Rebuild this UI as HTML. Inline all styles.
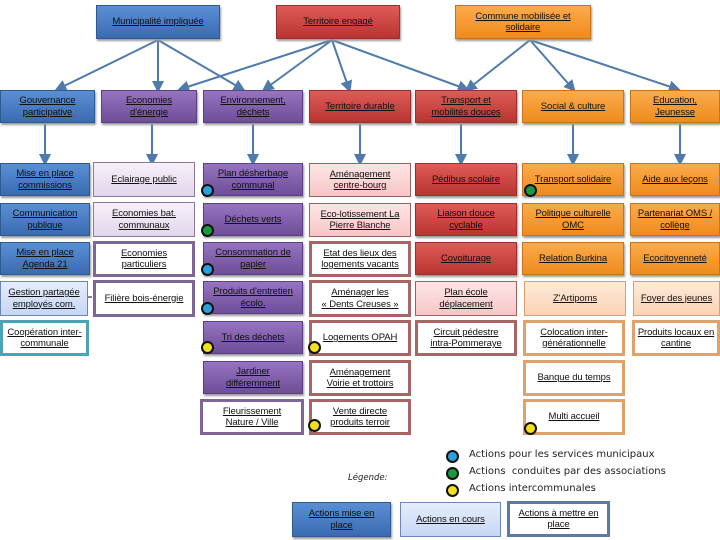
<!DOCTYPE html>
<html><head><meta charset="utf-8"><style>
body{margin:0;width:720px;height:540px;position:relative;background:#fff;overflow:hidden;font-family:"Liberation Sans",sans-serif;}
.b{position:absolute;box-sizing:border-box;display:flex;align-items:center;justify-content:center;text-align:center;font-size:9.5px;line-height:11.5px;color:#111;text-decoration:underline;white-space:nowrap;letter-spacing:-0.1px}
.blue{background:linear-gradient(#5b8fd3,#3a6bb0);border:1px solid #2e5a94;box-shadow:1px 2px 2px #999}
.pur{background:linear-gradient(#9674bf,#6e4d99);border:1px solid #5c3f84;box-shadow:1px 2px 2px #999}
.red{background:linear-gradient(#de5b58,#b83532);border:1px solid #983030;box-shadow:1px 2px 2px #999}
.org{background:linear-gradient(#fbab4c,#ef8b1e);border:1px solid #c8741c;box-shadow:1px 2px 2px #999}
.lpur{background:linear-gradient(#f6f0fa,#e2d6ec);border:1px solid #8c7aa0}
.lred{background:linear-gradient(#fde6e6,#f7c6c6);border:1px solid #a06060}
.lorg{background:linear-gradient(#feeadb,#fbd3b4);border:1px solid #d8a070}
.lblue{background:linear-gradient(#e6eefc,#c6d6f4);border:1px solid #6b87b8}
.wpur{background:#fff;border:3px solid #7e6796}
.wred{background:#fff;border:3px solid #a96565}
.worg{background:#fff;border:3px solid #e2a06a}
.wteal{background:#fff;border:3px solid #4ba3b4}
.wblue{background:#fff;border:3px solid #5c7aa8}
.d{position:absolute;width:9px;height:9px;border-radius:50%;border:2.5px solid #111}
.t{position:absolute;font-size:10px;color:#222;font-family:"DejaVu Sans",sans-serif}
</style></head><body>
<svg width="720" height="540" style="position:absolute;left:0;top:0">
<defs><marker id="a" markerWidth="6" markerHeight="6" refX="4" refY="3" orient="auto"><path d="M0,0L6,3L0,6z" fill="#4f7bac"/></marker></defs>
<g stroke="#4f7bac" stroke-width="2" marker-end="url(#a)">
<line x1="158" y1="40" x2="58" y2="89"/><line x1="158" y1="40" x2="158" y2="89"/><line x1="158" y1="40" x2="242" y2="89"/>
<line x1="332" y1="40" x2="181" y2="89"/><line x1="332" y1="40" x2="265" y2="89"/><line x1="332" y1="40" x2="349" y2="89"/><line x1="332" y1="40" x2="466" y2="89"/>
<line x1="530" y1="40" x2="468" y2="89"/><line x1="530" y1="40" x2="573" y2="89"/><line x1="530" y1="40" x2="677" y2="89"/>
<line x1="45" y1="124" x2="45" y2="162"/><line x1="152" y1="124" x2="152" y2="162"/><line x1="253" y1="124" x2="253" y2="162"/><line x1="360" y1="124" x2="360" y2="162"/><line x1="461" y1="124" x2="461" y2="162"/><line x1="573" y1="124" x2="573" y2="162"/><line x1="680" y1="124" x2="680" y2="162"/>
</g>
<line x1="0" y1="297" x2="92" y2="297" stroke="#111" stroke-width="1"/>
</svg>
<div class="b blue" style="left:96px;top:5px;width:124px;height:34px">Municipalité impliquée</div>
<div class="b red" style="left:276px;top:5px;width:124px;height:34px">Territoire engagé</div>
<div class="b org" style="left:455px;top:5px;width:136px;height:34px">Commune mobilisée et<br>solidaire</div>

<div class="b blue" style="left:0;top:90px;width:95px;height:33px">Gouvernance<br>participative</div>
<div class="b pur" style="left:101px;top:90px;width:96px;height:33px">Economies<br>d'énergie</div>
<div class="b pur" style="left:203px;top:90px;width:100px;height:33px">Environnement,<br>déchets</div>
<div class="b red" style="left:309px;top:90px;width:102px;height:33px">Territoire durable</div>
<div class="b red" style="left:415px;top:90px;width:102px;height:33px">Transport et<br>mobilités douces</div>
<div class="b org" style="left:522px;top:90px;width:102px;height:33px">Social &amp; culture</div>
<div class="b org" style="left:630px;top:90px;width:90px;height:33px">Education,<br>Jeunesse</div>

<div class="b blue" style="left:0;top:163px;width:90px;height:33px">Mise en place<br>commissions</div>
<div class="b lpur" style="left:93px;top:162px;width:102px;height:35px">Eclairage public</div>
<div class="b pur" style="left:203px;top:163px;width:100px;height:33px">Plan désherbage<br>communal</div>
<div class="b lred" style="left:309px;top:163px;width:102px;height:34px">Aménagement<br>centre-bourg</div>
<div class="b red" style="left:415px;top:163px;width:102px;height:33px">Pédibus scolaire</div>
<div class="b org" style="left:522px;top:163px;width:102px;height:33px">Transport solidaire</div>
<div class="b org" style="left:630px;top:163px;width:90px;height:33px">Aide aux leçons</div>

<div class="b blue" style="left:0;top:203px;width:90px;height:33px">Communication<br>publique</div>
<div class="b lpur" style="left:93px;top:202px;width:102px;height:35px">Economies bat.<br>communaux</div>
<div class="b pur" style="left:203px;top:203px;width:100px;height:33px">Déchets verts</div>
<div class="b lred" style="left:309px;top:203px;width:102px;height:34px">Eco-lotissement La<br>Pierre Blanche</div>
<div class="b red" style="left:415px;top:203px;width:102px;height:33px">Liaison douce<br>cyclable</div>
<div class="b org" style="left:522px;top:203px;width:102px;height:33px">Politique culturelle<br>OMC</div>
<div class="b org" style="left:630px;top:203px;width:90px;height:33px">Partenariat OMS /<br>collège</div>

<div class="b blue" style="left:0;top:242px;width:90px;height:33px">Mise en place<br>Agenda 21</div>
<div class="b wpur" style="left:93px;top:241px;width:102px;height:36px">Economies<br>particuliers</div>
<div class="b pur" style="left:203px;top:242px;width:100px;height:33px">Consommation de<br>papier</div>
<div class="b wred" style="left:309px;top:241px;width:102px;height:36px">Etat des lieux des<br>logements vacants</div>
<div class="b red" style="left:415px;top:242px;width:102px;height:33px">Covoiturage</div>
<div class="b org" style="left:522px;top:242px;width:102px;height:33px">Relation Burkina</div>
<div class="b org" style="left:630px;top:242px;width:90px;height:33px">Ecocitoyenneté</div>

<div class="b lblue" style="left:0;top:281px;width:88px;height:35px">Gestion partagée<br>employés com.</div>
<div class="b wpur" style="left:93px;top:280px;width:102px;height:37px">Filière bois-énergie</div>
<div class="b pur" style="left:203px;top:281px;width:100px;height:33px">Produits d'entretien<br>écolo.</div>
<div class="b wred" style="left:309px;top:280px;width:102px;height:37px">Aménager les<br>« Dents Creuses »</div>
<div class="b lred" style="left:415px;top:281px;width:102px;height:35px">Plan école<br>déplacement</div>
<div class="b lorg" style="left:524px;top:281px;width:102px;height:35px">Z'Artipoms</div>
<div class="b lorg" style="left:633px;top:281px;width:87px;height:35px">Foyer des jeunes</div>

<div class="b wteal" style="left:0;top:320px;width:89px;height:36px">Coopération inter-<br>communale</div>
<div class="b pur" style="left:203px;top:321px;width:100px;height:33px">Tri des déchets</div>
<div class="b wred" style="left:309px;top:320px;width:102px;height:36px">Logements OPAH</div>
<div class="b wred" style="left:415px;top:320px;width:102px;height:36px">Circuit pédestre<br>intra-Pommeraye</div>
<div class="b worg" style="left:523px;top:320px;width:102px;height:36px">Colocation inter-<br>générationnelle</div>
<div class="b worg" style="left:632px;top:320px;width:88px;height:36px">Produits locaux en<br>cantine</div>

<div class="b pur" style="left:203px;top:361px;width:100px;height:33px">Jardiner<br>différemment</div>
<div class="b wred" style="left:309px;top:360px;width:102px;height:36px">Aménagement<br>Voirie et trottoirs</div>
<div class="b worg" style="left:523px;top:360px;width:102px;height:36px">Banque du temps</div>

<div class="b wpur" style="left:200px;top:399px;width:104px;height:36px">Fleurissement<br>Nature / Ville</div>
<div class="b wred" style="left:309px;top:399px;width:102px;height:36px">Vente directe<br>produits terroir</div>
<div class="b worg" style="left:523px;top:399px;width:102px;height:36px">Multi accueil</div>

<div class="d" style="left:201px;top:184px;background:#2aa0dc"></div>
<div class="d" style="left:524px;top:184px;background:#1a9a40"></div>
<div class="d" style="left:201px;top:224px;background:#1a9a40"></div>
<div class="d" style="left:201px;top:263px;background:#2aa0dc"></div>
<div class="d" style="left:201px;top:302px;background:#2aa0dc"></div>
<div class="d" style="left:201px;top:341px;background:#f0e020"></div>
<div class="d" style="left:308px;top:341px;background:#f0e020"></div>
<div class="d" style="left:308px;top:419px;background:#f0e020"></div>
<div class="d" style="left:524px;top:422px;background:#f0e020"></div>

<div class="d" style="left:446px;top:450px;background:#2aa0dc"></div>
<div class="d" style="left:446px;top:467px;background:#1a9a40"></div>
<div class="d" style="left:446px;top:484px;background:#f0e020"></div>
<div class="t" style="left:469px;top:449px">Actions pour les services municipaux</div>
<div class="t" style="left:469px;top:466px">Actions&nbsp; conduites par des associations</div>
<div class="t" style="left:469px;top:483px">Actions intercommunales</div>
<div class="t" style="left:348px;top:473px;font-style:italic;font-size:8.5px">Légende:</div>

<div class="b blue" style="left:292px;top:502px;width:99px;height:35px">Actions mise en<br>place</div>
<div class="b lblue" style="left:400px;top:502px;width:101px;height:35px">Actions en cours</div>
<div class="b wblue" style="left:507px;top:501px;width:103px;height:36px">Actions à mettre en<br>place</div>
</body></html>
